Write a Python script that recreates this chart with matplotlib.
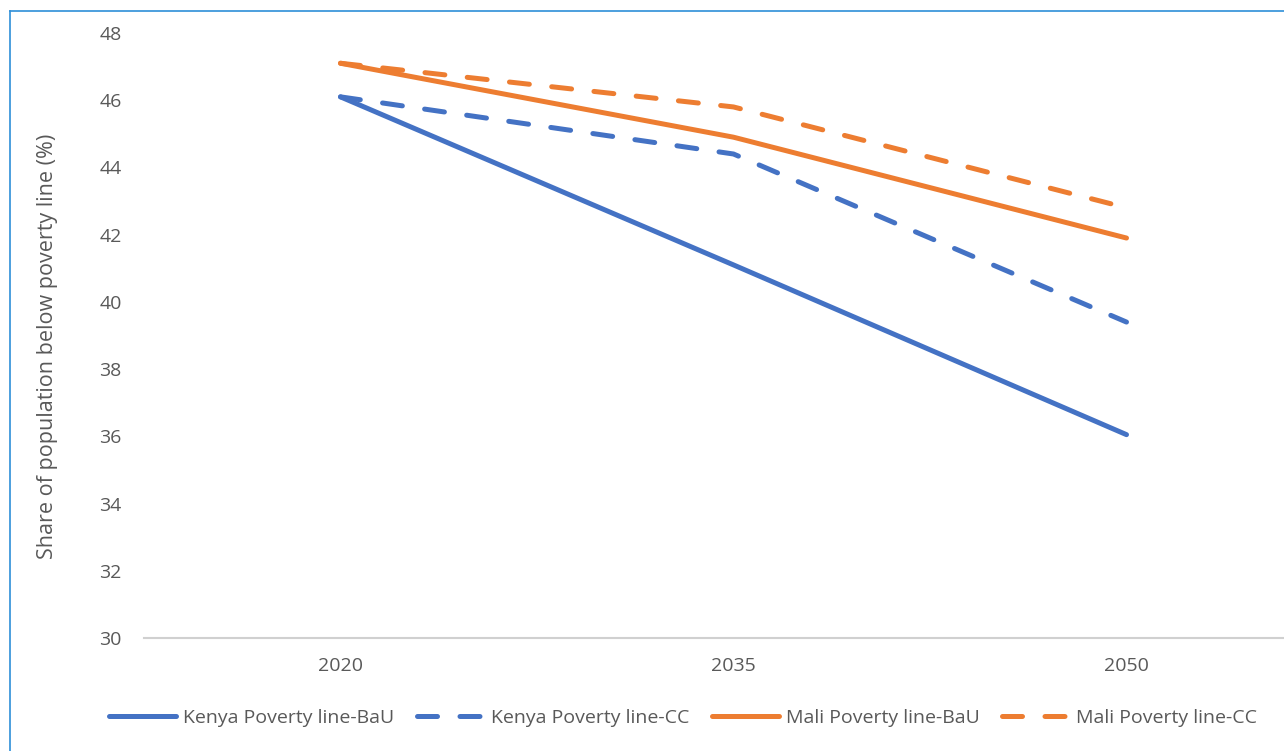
"""Kenya vs Mali poverty headcount under BaU and climate-change scenarios."""

import matplotlib
matplotlib.use("Agg")
import matplotlib.pyplot as plt
from matplotlib.lines import Line2D

plt.rcParams["font.family"] = ["Open Sans", "DejaVu Sans"]

years = ["2020", "2035", "2050"]
kenya_bau = [46.1, 41.1, 36.05]
kenya_cc = [46.1, 44.4, 39.4]
mali_bau = [47.1, 44.9, 41.9]
mali_cc = [47.1, 45.8, 42.8]

BLUE = "#4472C4"
ORANGE = "#ED7D31"
GREY = "#595959"

fig = plt.figure(figsize=(12.84, 7.51), dpi=100)
ax = fig.add_axes([144 / 1284, (751 - 638) / 751, 1179 / 1284, 605 / 751])

x = range(len(years))
style = dict(lw=3.6, solid_capstyle="round", dash_capstyle="round")
ax.plot(x, kenya_bau, color=BLUE, label="Kenya Poverty line-BaU", **style)
ax.plot(x, kenya_cc, color=BLUE, dashes=(4, 4.5), label="Kenya Poverty line-CC", **style)
ax.plot(x, mali_bau, color=ORANGE, label="Mali Poverty line-BaU", **style)
ax.plot(x, mali_cc, color=ORANGE, dashes=(4, 4.5), label="Mali Poverty line-CC", **style)

ax.set_xlim(-0.5, 2.5)
ax.set_ylim(30, 48)
ax.set_yticks(range(30, 49, 2))
ax.set_xticks(list(x))
ax.set_xticklabels(years)
ax.tick_params(length=0, colors=GREY, labelsize=14)
ax.tick_params(axis="x", pad=14)
ax.tick_params(axis="y", pad=16)
for s in ["top", "right", "left"]:
    ax.spines[s].set_visible(False)
ax.spines["bottom"].set_color("#D0D0D0")
ax.spines["bottom"].set_linewidth(1.5)

ax.set_ylabel("Share of population below poverty line (%)", color=GREY, fontsize=15.5)
ax.yaxis.set_label_coords((58 - 144) / 1179, (638 - 346) / 605)

handles, labels = ax.get_legend_handles_labels()
fig.legend(handles, labels, loc="center", bbox_to_anchor=(683 / 1284, (751 - 718) / 751),
           ncol=4, frameon=False, fontsize=14, labelcolor=GREY, handlelength=3.45,
           columnspacing=1.15, handletextpad=0.36)

# outer frame of the original screenshot (left and top edges)
fig.add_artist(Line2D([10 / 1284, 10 / 1284], [0, (751 - 11) / 751], color="#2E8FD8", lw=1.2,
                      transform=fig.transFigure))
fig.add_artist(Line2D([10 / 1284, 1], [(751 - 11) / 751, (751 - 11) / 751], color="#2E8FD8", lw=1.2,
                      transform=fig.transFigure))

fig.savefig("out.png", dpi=100)
